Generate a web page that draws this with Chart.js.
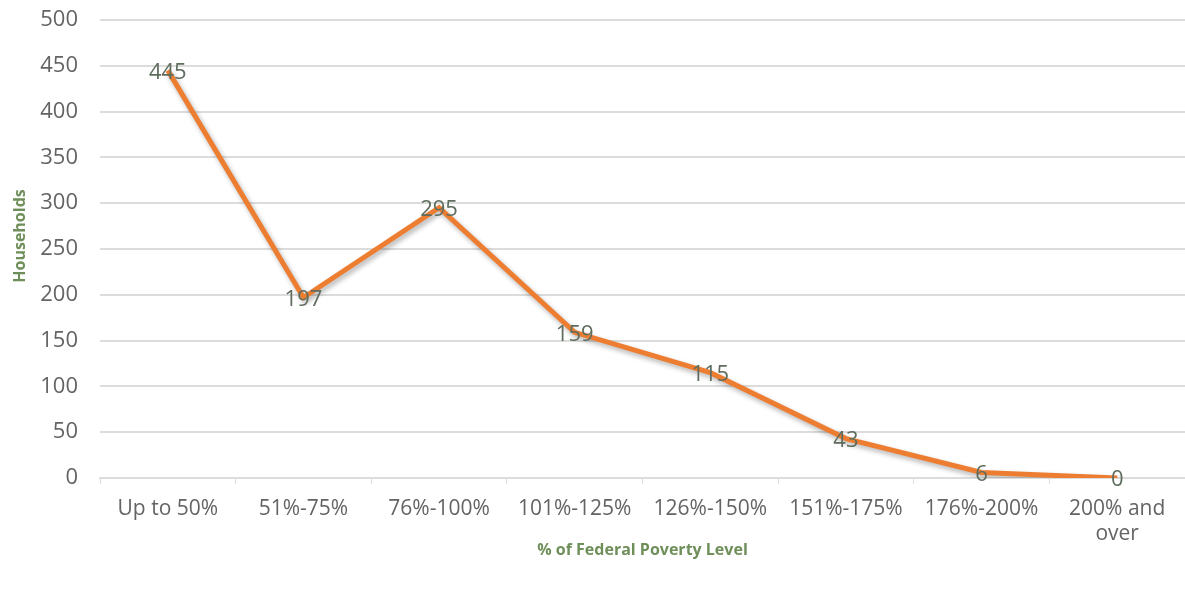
<!DOCTYPE html>
<html>
<head>
<meta charset="utf-8">
<script src="https://cdn.jsdelivr.net/npm/chart.js@4.4.1/dist/chart.umd.min.js"></script>
<style>
  html, body { margin: 0; padding: 0; background: #fff; }
  #wrap { width: 1185px; height: 590px; position: relative; }
</style>
</head>
<body>
<div id="wrap"><canvas id="povChart"></canvas></div>
<script>
// data
const categories = ['Up to 50%', '51%-75%', '76%-100%', '101%-125%', '126%-150%', '151%-175%', '176%-200%', ['200% and', 'over']];
const households = [445, 197, 295, 159, 115, 43, 6, 0];
const yTicks = [0, 50, 100, 150, 200, 250, 300, 350, 400, 450, 500];

const tickColor = '#646464';
const gridColor = '#dcdcdc';
const titleColor = '#6f8f5a';

// soft drop shadow under the line
const shadowPlugin = {
  id: 'lineShadow',
  beforeDatasetDraw(chart) {
    const ctx = chart.ctx;
    ctx.save();
    ctx.shadowColor = 'rgba(0,0,0,0.3)';
    ctx.shadowBlur = 5;
    ctx.shadowOffsetX = 2;
    ctx.shadowOffsetY = 3;
  },
  afterDatasetDraw(chart) {
    chart.ctx.restore();
  }
};

// value labels centred on each point + the y title (sits a bit above centre in the original)
const valueLabels = {
  id: 'valueLabels',
  afterDatasetsDraw(chart) {
    const ctx = chart.ctx;
    const meta = chart.getDatasetMeta(0);
    ctx.save();
    ctx.font = '22px "Open Sans", sans-serif';
    ctx.fillStyle = '#5f6d5f';
    ctx.textAlign = 'center';
    ctx.textBaseline = 'middle';
    meta.data.forEach((pt, i) => {
      ctx.fillText(String(households[i]), pt.x, pt.y + 2);
    });
    ctx.restore();

    ctx.save();
    ctx.translate(20, 236);
    ctx.rotate(-Math.PI / 2);
    ctx.font = 'bold 16px "Open Sans", sans-serif';
    ctx.fillStyle = titleColor;
    ctx.textAlign = 'center';
    ctx.textBaseline = 'middle';
    ctx.fillText('Households', 0, 0);
    ctx.restore();
  }
};

new Chart(document.getElementById('povChart'), {
  type: 'line',
  data: {
    labels: categories,
    datasets: [{
      data: households,
      borderColor: '#ed7d31',
      backgroundColor: '#ed7d31',
      borderWidth: 5,
      pointRadius: 0,
      tension: 0,
      fill: false
    }]
  },
  options: {
    responsive: true,
    maintainAspectRatio: false,
    animation: false,
    layout: { padding: { top: 20, right: 0, bottom: 0, left: 0 } },
    plugins: {
      legend: { display: false },
      tooltip: { enabled: false }
    },
    scales: {
      x: {
        offset: true,
        afterFit(scale) { scale.height = 112; },
        grid: { drawOnChartArea: false, drawTicks: true, tickLength: 6, offset: true, color: gridColor },
        border: { display: true, color: gridColor, width: 2 },
        ticks: { color: tickColor, font: { family: '"Open Sans", sans-serif', size: 21 }, maxRotation: 0, padding: 12 },
        title: {
          display: true,
          text: '% of Federal Poverty Level',
          color: titleColor,
          font: { family: '"Open Sans", sans-serif', size: 16, weight: 'bold' },
          padding: { top: 6, bottom: 30 }
        }
      },
      y: {
        min: 0,
        max: 500,
        afterBuildTicks(scale) { scale.ticks = yTicks.map(v => ({ value: v })); },
        afterFit(scale) {
          scale.width = 100;
          scale.paddingTop = 0;
          scale.paddingBottom = 0;
        },
        grid: { color: gridColor, lineWidth: 2, drawTicks: false },
        border: { display: false },
        ticks: { color: tickColor, font: { family: '"Open Sans", sans-serif', size: 22 }, padding: 22 },
        title: { display: false }
      }
    }
  },
  plugins: [shadowPlugin, valueLabels]
});
</script>
</body>
</html>
